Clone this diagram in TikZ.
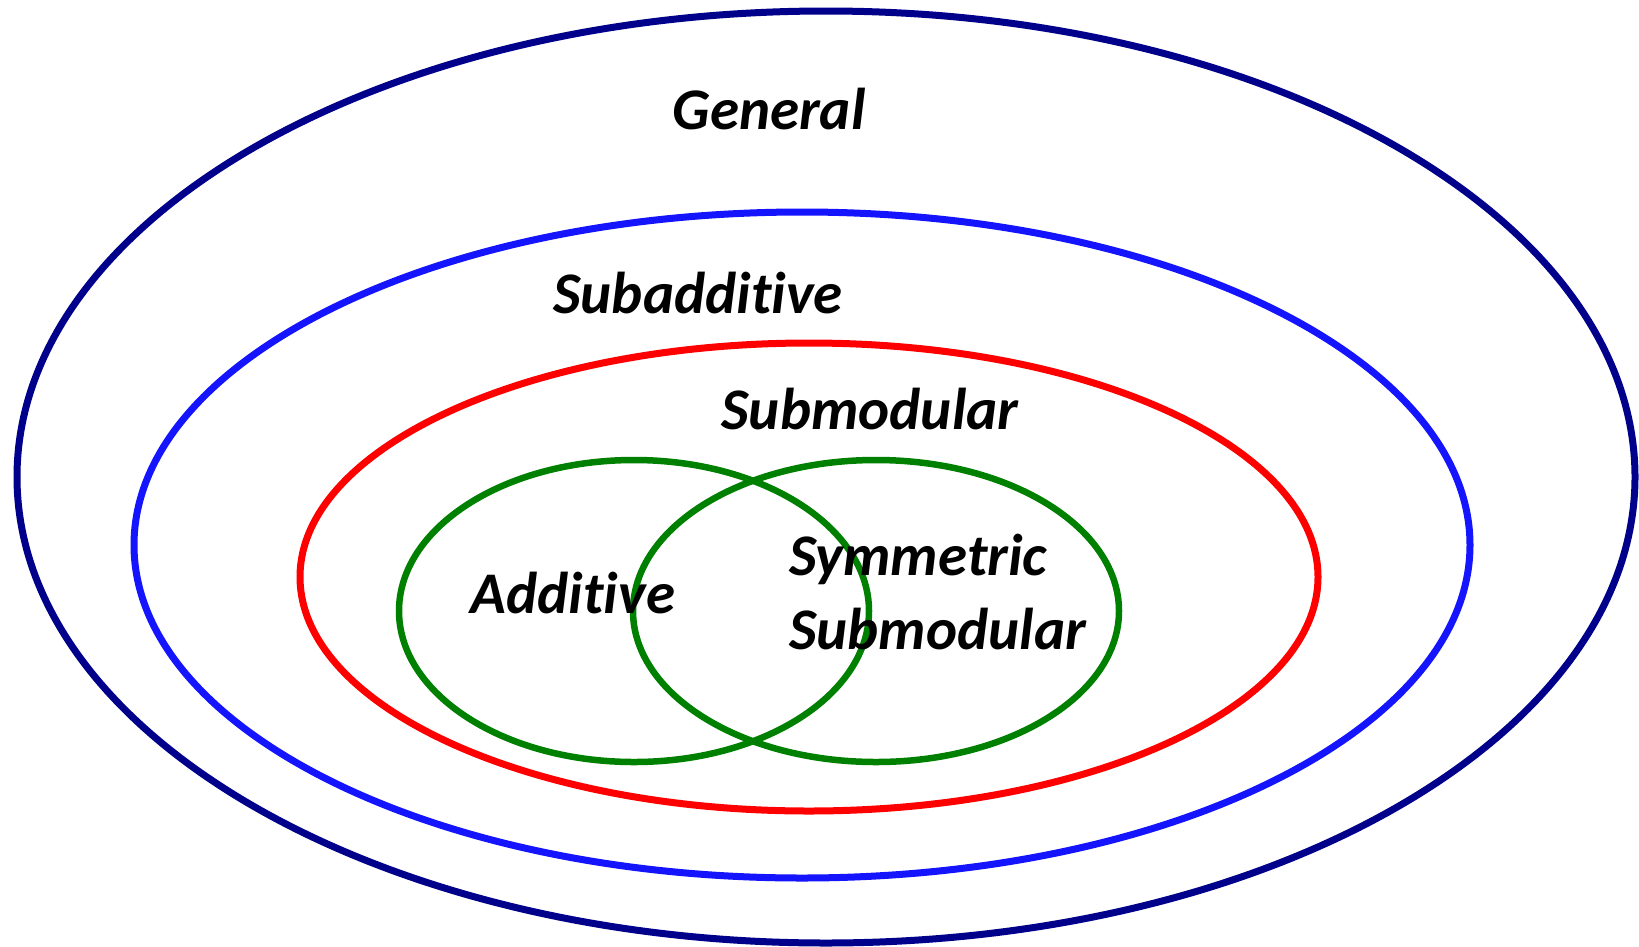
\documentclass[tikz,border=0pt]{standalone}
\usepackage{fontspec}
\setmainfont{Carlito}[Ligatures={NoCommon}]
\definecolor{navyc}{RGB}{0,0,139}
\definecolor{bluec}{RGB}{20,20,255}
\definecolor{redc}{RGB}{255,0,0}
\definecolor{greenc}{RGB}{0,128,0}
\tikzset{
  setring/.style={line width=7pt},
  lbl/.style={font=\fontsize{59}{70}\selectfont\bfseries\itshape, inner sep=0pt}
}
\begin{document}
\begin{tikzpicture}[x=1pt,y=-1pt]
\useasboundingbox (0,0) rectangle (1639,946);
\draw[setring, navyc] (826,477) ellipse [x radius=809, y radius=466];
\draw[setring, bluec] (802,545) ellipse [x radius=668, y radius=333];
\draw[setring, redc] (809,577) ellipse [x radius=509, y radius=234];
\draw[setring, greenc, line width=6.5pt] (634,611) ellipse [x radius=235, y radius=151];
\draw[setring, greenc, line width=6.5pt] (876,611) ellipse [x radius=243, y radius=151];
\node[lbl] (general) at (769,109) {General};
\node[lbl] (subadd) at (698,293) {Subadditive};
\node[lbl] (submod) at (870,409) {Submodular};
\node[lbl] (additive) at (573,593) {Additive};
\node[lbl, anchor=west] (sym) at (789,559) {Symmetric};
\node[lbl, anchor=west] (symsub) at (789,629) {Submodular};
\end{tikzpicture}
\end{document}
